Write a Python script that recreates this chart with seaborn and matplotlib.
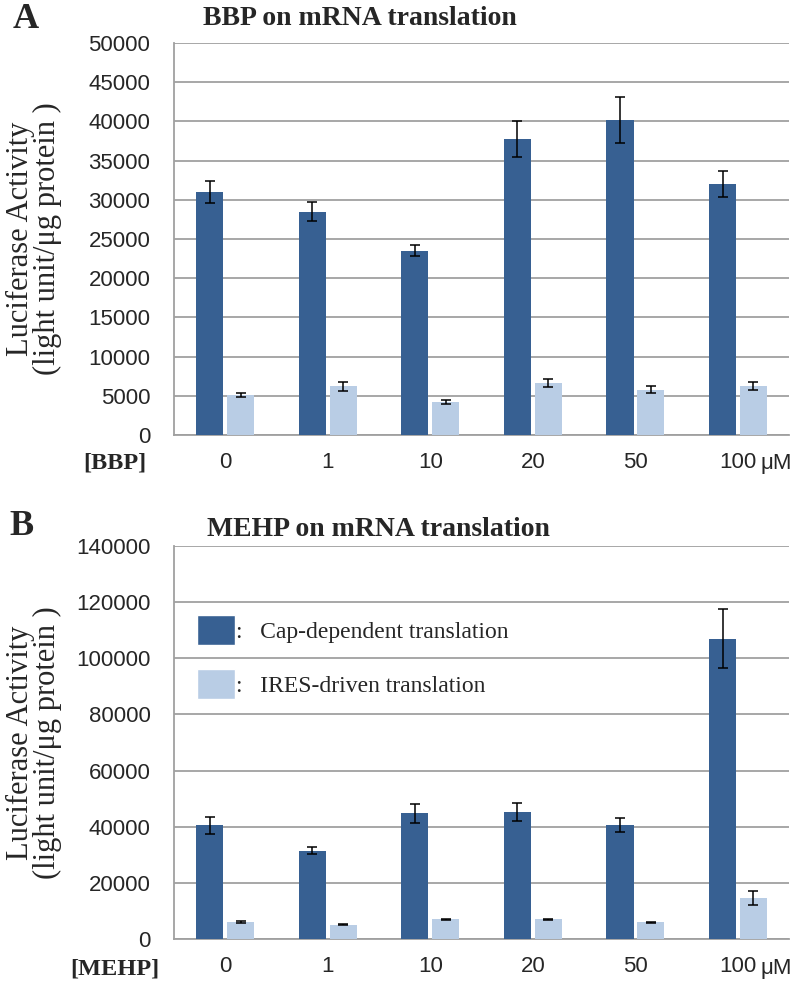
import numpy as np
import pandas as pd
import matplotlib
matplotlib.use("Agg")
import matplotlib.pyplot as plt
import seaborn as sns
from matplotlib.patches import Patch

# ---- data ----
doses = ["0", "1", "10", "20", "50", "100"]
series = ["Cap-dependent translation", "IRES-driven translation"]

bbp_cap = [31000, 28500, 23500, 37800, 40200, 32000]
bbp_cap_err = [1400, 1200, 700, 2300, 2900, 1700]
bbp_ires = [5100, 6200, 4200, 6600, 5800, 6200]
bbp_ires_err = [300, 600, 300, 500, 400, 500]

mehp_cap = [40500, 31500, 44700, 45200, 40500, 107000]
mehp_cap_err = [3000, 1200, 3500, 3200, 2500, 10500]
mehp_ires = [6000, 5000, 7000, 7000, 6000, 14500]
mehp_ires_err = [300, 200, 200, 200, 200, 2500]

DARK = "#376092"
LIGHT = "#B9CDE5"
GRID = "#a0a0a0"
SERIF = ["Liberation Serif", "DejaVu Serif"]
SANS = ["Liberation Sans", "DejaVu Sans"]

sns.set_style("white")
plt.rcParams["font.family"] = SANS


def make_df(cap, cap_err, ires, ires_err):
    return pd.DataFrame({
        "dose": doses * 2,
        "series": [series[0]] * 6 + [series[1]] * 6,
        "value": cap + ires,
        "err": cap_err + ires_err,
    })


def draw_panel(ax, df, ymax, step, xname, name_y):
    sns.barplot(data=df, x="dose", y="value", hue="series", order=doses,
                hue_order=series, palette=[DARK, LIGHT], saturation=1,
                width=0.6, gap=0.12, linewidth=0, errorbar=None,
                legend=False, ax=ax, zorder=3)
    # error bars at bar centres
    bars = [p for p in ax.patches if p.get_height() > 0]
    for p, e in zip(bars, df["err"]):
        ax.errorbar(p.get_x() + p.get_width() / 2, p.get_height(), yerr=e,
                    fmt="none", ecolor="black", elinewidth=1.1, capsize=3.5,
                    capthick=1.1, zorder=4)
    ax.set_ylim(0, ymax)
    ax.set_yticks(np.arange(0, ymax + 1, step))
    ax.set_xlim(-0.5, 5.5)
    ax.grid(axis="y", color=GRID, lw=1.3, zorder=0)
    ax.set_axisbelow(True)
    for s in ["top", "right"]:
        ax.spines[s].set_visible(False)
    for s in ["left", "bottom"]:
        ax.spines[s].set_color(GRID)
        ax.spines[s].set_linewidth(1.3)
    ax.tick_params(axis="y", length=6, width=1.3, color=GRID, labelsize=16,
                   pad=11)
    ax.tick_params(axis="x", length=0, labelsize=16, pad=12)
    ax.set_xlabel("")
    ax.set_ylabel("Luciferase Activity\n(light unit/\u03bcg protein )",
                  family=SERIF, fontsize=22, linespacing=0.92)
    ax.yaxis.label.set_va("center")
    ax.yaxis.set_label_coords(-0.228, 0.5)
    # dose unit and axis name
    ax.text(5.22, name_y, "\u03bcM", transform=ax.get_xaxis_transform(),
            fontsize=16, ha="left", va="center")
    ax.text(-0.096, name_y, xname, transform=ax.transAxes, family=SERIF,
            fontsize=17.5, fontweight="bold", ha="center", va="center")


fig = plt.figure(figsize=(8, 9.86), dpi=100)
ax1 = fig.add_axes([0.2175, 0.5588, 0.769, 0.3976])
ax2 = fig.add_axes([0.2175, 0.0477, 0.769, 0.3986])

draw_panel(ax1, make_df(bbp_cap, bbp_cap_err, bbp_ires, bbp_ires_err),
           50000, 5000, "[BBP]", -0.072)
draw_panel(ax2, make_df(mehp_cap, mehp_cap_err, mehp_ires, mehp_ires_err),
           140000, 20000, "[MEHP]", -0.076)

handles = [Patch(facecolor=DARK), Patch(facecolor=LIGHT)]
ax2.legend(handles, [":   " + s for s in series], loc="upper left",
           bbox_to_anchor=(0.037, 0.825), frameon=False, borderpad=0,
           borderaxespad=0, handlelength=1.6, handleheight=1.6,
           labelspacing=1.0, handletextpad=0.05,
           prop={"family": SERIF, "size": 17})

fig.text(0.016, 0.980, "A", family=SERIF, fontsize=26, fontweight="bold",
         va="center")
fig.text(0.45, 0.9817, "BBP on mRNA translation", family=SERIF, fontsize=20,
         fontweight="bold", ha="center", va="center")
fig.text(0.012, 0.4665, "B", family=SERIF, fontsize=26, fontweight="bold",
         va="center")
fig.text(0.4725, 0.4625, "MEHP on mRNA translation", family=SERIF,
         fontsize=20, fontweight="bold", ha="center", va="center")

fig.savefig("out.png", dpi=100, facecolor="white")
